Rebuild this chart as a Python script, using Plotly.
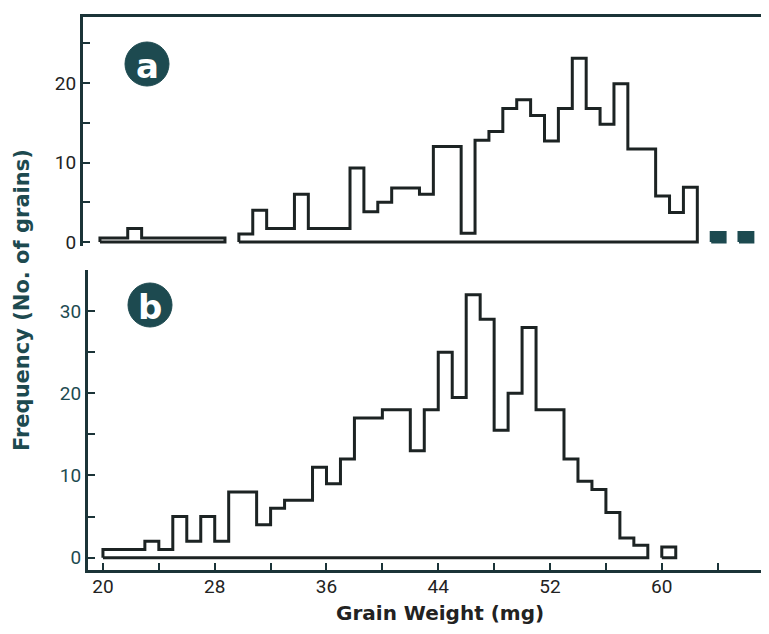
import plotly.graph_objects as go

# ---------------- data ----------------
bin_width = 1
bins_a = list(range(20, 67))          # lower edge of each 1-mg bin, panel a
freq_a = [0.5, 0.5, 1.7, 0.5, 0.5, 0.5, 0.5, 0.5, 0.5,            # 20-28
          None,                                                  # 29
          1, 4, 1.7, 1.7, 6, 1.7, 1.7, 1.7, 9.3, 3.8,             # 30-39
          5, 6.8, 6.8, 6, 12, 12, 1.1, 12.8, 13.9, 16.8,          # 40-49
          17.9, 15.9, 12.7, 16.8, 23.1, 16.8, 14.8, 19.9, 11.7, 11.7,  # 50-59
          5.8, 3.7, 6.9,                                         # 60-62
          None, 1.2, None, 1.2]                                  # 63-66

bins_b = list(range(20, 61))          # lower edge of each 1-mg bin, panel b
freq_b = [1, 1, 1, 2, 1, 5, 2, 5, 2, 8,                          # 20-29
          8, 4, 6, 7, 7, 11, 9, 12, 17, 17,                      # 30-39
          18, 18, 13, 18, 25, 19.5, 32, 29, 15.5, 20,            # 40-49
          28, 18, 18, 12, 9.3, 8.3, 5.5, 2.4, 1.5,               # 50-58
          None, 1.3]                                             # 59-60

x_tick_labels = ["20", "28", "36", "44", "52", "60"]
x_tick_vals = [20, 28, 36, 44, 52, 60]

LINE = "#1c2323"
TEAL = "#1d4a50"
AXIS = "#1b3438"


def groups(lo, vals):
    """Split bins into runs of consecutive non-empty bins."""
    out, cur = [], []
    for b, v in zip(lo, vals):
        if v is None:
            if cur:
                out.append(cur)
            cur = []
        else:
            cur.append((b, v))
    if cur:
        out.append(cur)
    return out


def outline(run):
    xs, ys = [run[0][0]], [0]
    for b, v in run:
        xs += [b, b + bin_width]
        ys += [v, v]
    xs += [run[-1][0] + bin_width, run[0][0]]
    ys += [0, 0]
    return xs, ys


fig = go.Figure()

# panel a
for run in groups(bins_a, freq_a):
    xs, ys = outline(run)
    single = len(run) == 1
    fig.add_trace(go.Scatter(
        x=xs, y=ys, mode="lines", xaxis="x2", yaxis="y2",
        line=dict(color=TEAL if single else LINE, width=3),
        fill="toself" if single else None,
        fillcolor=TEAL if single else None,
        hoverinfo="skip", showlegend=False))

# panel b
for run in groups(bins_b, freq_b):
    xs, ys = outline(run)
    fig.add_trace(go.Scatter(
        x=xs, y=ys, mode="lines", xaxis="x", yaxis="y",
        line=dict(color=LINE, width=3),
        hoverinfo="skip", showlegend=False))

# page offset of the figure (default body margin)
OFF = 8
W, H = 769 - OFF, 634 - OFF
L = 83 - OFF           # left edge of plotting area (page px 83)
T = 17 - OFF           # top of plotting area (page px 17)
BOTTOM_PAGE = 570      # bottom of plotting area in page px
B = H - (BOTTOM_PAGE - OFF)
pw, ph = W - L, H - T - B


def px(xp):
    """page x pixel -> paper x"""
    return (xp - OFF - L) / pw


def py(yp):
    """page y pixel -> paper y"""
    return (BOTTOM_PAGE - yp) / ph


tickfont_dark = dict(family="Roboto, Lato, sans-serif", size=19, color="#222222")
tickfont_teal = dict(family="Roboto, Lato, sans-serif", size=19, color=TEAL)

fig.update_layout(
    width=W, height=H,
    margin=dict(l=L, r=0, t=T, b=B, autoexpand=False),
    paper_bgcolor="white", plot_bgcolor="white",
    showlegend=False,
    # panel b axes
    xaxis=dict(domain=[px(88), 1], range=[18.93, 20 + (769 - 103) / 13.97], anchor="y",
               showline=True, linecolor=AXIS, linewidth=3, showgrid=False, zeroline=False,
               ticks="inside", tickvals=x_tick_vals, ticktext=x_tick_labels,
               ticklen=7, tickwidth=2, tickcolor=AXIS, tickfont=tickfont_dark,
               ticklabelstandoff=-3,
               minor=dict(tickvals=list(range(24, 68, 8)), ticks="inside", ticklen=7,
                          tickwidth=2, tickcolor=AXIS, showgrid=False)),
    yaxis=dict(domain=[0, py(270)], range=[-1.5, 35], anchor="x",
               showline=True, linecolor=AXIS, linewidth=3, showgrid=False, zeroline=False,
               ticks="inside", tick0=0, dtick=10, ticklen=7, tickwidth=2, tickcolor=AXIS,
               tickfont=tickfont_teal,
               minor=dict(tick0=0, dtick=5, ticks="inside", ticklen=7, tickwidth=2,
                          tickcolor=AXIS, showgrid=False)),
    # panel a axes
    xaxis2=dict(domain=[0, 1], range=[18.78, 68.16], anchor="y2", side="top",
                showline=True, linecolor=AXIS, linewidth=3, showgrid=False, zeroline=False,
                ticks="", showticklabels=False),
    yaxis2=dict(domain=[py(246), 1], range=[-0.5, 28.3], anchor="x2",
                showline=True, linecolor=AXIS, linewidth=3, showgrid=False, zeroline=False,
                ticks="inside", tick0=0, dtick=10, ticklen=7, tickwidth=2, tickcolor=AXIS,
                tickfont=tickfont_dark,
                minor=dict(tick0=0, dtick=5, ticks="inside", ticklen=7, tickwidth=2,
                           tickcolor=AXIS, showgrid=False)),
)

# panel letters in dark circles
for label, cx, cy in [("a", 147, 64), ("b", 150, 305)]:
    r = 22
    fig.add_shape(type="circle", xref="paper", yref="paper",
                  x0=px(cx - r), x1=px(cx + r), y0=py(cy + r), y1=py(cy - r),
                  fillcolor=TEAL, line=dict(color=TEAL, width=1), layer="above")
    fig.add_annotation(text=f"<b>{label}</b>", xref="paper", yref="paper",
                       x=px(cx), y=py(cy + 2), showarrow=False,
                       xanchor="center", yanchor="middle",
                       font=dict(family="DejaVu Sans, sans-serif", size=34, color="white"))

fig.add_annotation(text="<b>Frequency (No. of grains)</b>", xref="paper", yref="paper",
                   x=px(22), y=py(300), textangle=-90, showarrow=False,
                   xanchor="center", yanchor="middle",
                   font=dict(family="DejaVu Sans, sans-serif", size=21, color=TEAL))
fig.add_annotation(text="<b>Grain Weight (mg)</b>", xref="paper", yref="paper",
                   x=px(440), y=py(613), showarrow=False,
                   xanchor="center", yanchor="middle",
                   font=dict(family="DejaVu Sans, sans-serif", size=20, color="#222222"))

fig.write_html("out.html")
